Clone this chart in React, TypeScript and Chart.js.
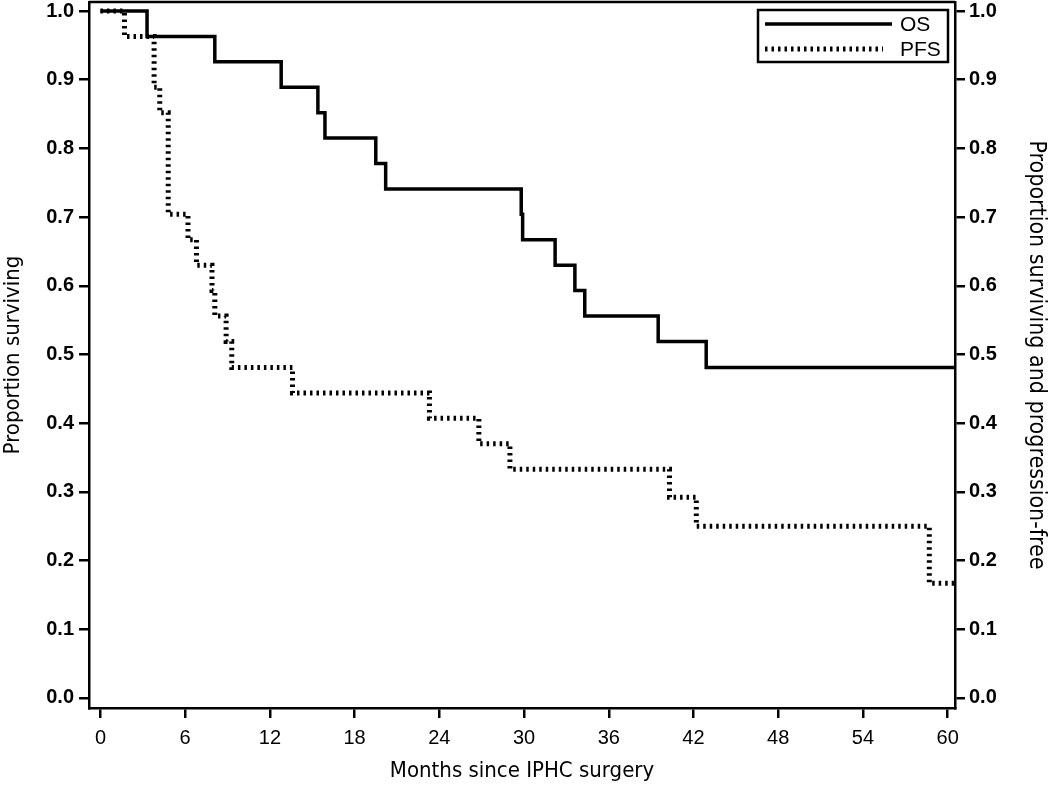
import React, { useEffect, useRef } from "react";
import { Chart, registerables } from "chart.js";

Chart.register(...registerables);

// ---- Data ----
const seriesNames = ["OS", "PFS"];
const osMonths = [0, 3.3, 8.1, 12.8, 15.4, 15.9, 19.5, 20.2, 29.8, 29.9, 32.2, 33.6, 34.3, 39.5, 42.9, 60.5];
const osSurvival = [1.0, 0.963, 0.926, 0.889, 0.852, 0.815, 0.778, 0.741, 0.704, 0.667, 0.63, 0.593, 0.556, 0.519, 0.481, 0.481];
const pfsMonths = [0, 1.7, 3.8, 4.2, 4.8, 6.2, 6.8, 7.9, 8.1, 8.9, 9.3, 13.6, 23.3, 26.8, 29.0, 40.3, 42.2, 58.7, 60.5];
const pfsSurvival = [1.0, 0.963, 0.889, 0.852, 0.704, 0.667, 0.63, 0.593, 0.556, 0.519, 0.481, 0.444, 0.407, 0.37, 0.333, 0.292, 0.25, 0.167, 0.167];
const xTicks = [0, 6, 12, 18, 24, 30, 36, 42, 48, 54, 60];
const yTicks = [0, 0.1, 0.2, 0.3, 0.4, 0.5, 0.6, 0.7, 0.8, 0.9, 1.0];
const xTitle = "Months since IPHC surgery";
const yTitleLeft = "Proportion surviving";
const yTitleRight = "Proportion surviving and progression-free";

const X_MIN = -0.81;
const X_MAX = 60.52;
const Y_MIN = -0.0146;
const Y_MAX = 1.0131;

const BLACK = "#000000";
const SANS = "'Liberation Sans', Arial, sans-serif";
const NARROW = "'Liberation Sans Narrow', 'Arial Narrow', 'DejaVu Sans Condensed', sans-serif";
const PFS_DASH = [2.5, 4];

const framePlugin = {
  id: "frameAndLegend",
  afterDraw(chart: any) {
    const { ctx, chartArea } = chart;
    ctx.save();
    // top border of the plot box
    ctx.strokeStyle = BLACK;
    ctx.lineWidth = 2.5;
    ctx.beginPath();
    ctx.moveTo(chartArea.left, chartArea.top);
    ctx.lineTo(chartArea.right, chartArea.top);
    ctx.stroke();

    // legend box
    const boxRight = chartArea.right - 7;
    const boxLeft = boxRight - 190;
    const boxTop = chartArea.top + 8;
    const boxH = 52;
    ctx.lineWidth = 2.5;
    ctx.strokeRect(boxLeft, boxTop, boxRight - boxLeft, boxH);

    const ds = chart.data.datasets;
    const rows = [
      { y: boxTop + 14, lineEnd: boxLeft + 134, d: ds[0] },
      { y: boxTop + 39, lineEnd: boxLeft + 125, d: ds[1] },
    ];
    ctx.font = `21px ${SANS}`;
    ctx.fillStyle = BLACK;
    ctx.textBaseline = "middle";
    ctx.textAlign = "left";
    rows.forEach((r) => {
      ctx.save();
      ctx.strokeStyle = r.d.borderColor;
      ctx.lineWidth = r.d.borderWidth;
      ctx.setLineDash(r.d.borderDash || []);
      ctx.beginPath();
      ctx.moveTo(boxLeft + 7, r.y);
      ctx.lineTo(r.lineEnd, r.y);
      ctx.stroke();
      ctx.restore();
      ctx.fillText(r.d.label, boxLeft + 142, r.y + 1);
    });
    ctx.restore();
  },
};

function yScale(position: "left" | "right", title: string, width: number, titleSize: number) {
  return {
    type: "linear",
    position,
    min: Y_MIN,
    max: Y_MAX,
    afterBuildTicks: (s: any) => {
      s.ticks = yTicks.map((v) => ({ value: v }));
    },
    afterFit: (s: any) => {
      s.width = width;
      s.paddingTop = 0;
      s.paddingBottom = 0;
    },
    ticks: {
      color: BLACK,
      font: { family: SANS, size: 20, weight: "bold" },
      padding: position === "left" ? 5 : 4,
      callback: (v: any) => Number(v).toFixed(1),
    },
    grid: {
      drawOnChartArea: false,
      drawTicks: true,
      tickLength: 10,
      color: BLACK,
      lineWidth: 2.5,
    },
    border: { display: true, color: BLACK, width: 2.5 },
    title: {
      display: true,
      text: title,
      color: BLACK,
      font: { family: NARROW, size: titleSize, lineHeight: 1.2 },
      padding: 0,
    },
  };
}

export default function App() {
  const ref = useRef<HTMLCanvasElement>(null);

  useEffect(() => {
    const canvas = ref.current;
    if (!canvas) return;
    const chart = new Chart(canvas, {
      type: "line",
      data: {
        datasets: [
          {
            label: seriesNames[0],
            data: osMonths.map((m, i) => ({ x: m, y: osSurvival[i] })),
            stepped: "before",
            borderColor: BLACK,
            borderWidth: 3.5,
            pointRadius: 0,
            fill: false,
            order: 1,
            yAxisID: "y",
          },
          {
            label: seriesNames[1],
            data: pfsMonths.map((m, i) => ({ x: m, y: pfsSurvival[i] })),
            stepped: "before",
            borderColor: BLACK,
            borderWidth: 5,
            borderDash: PFS_DASH,
            borderCapStyle: "butt",
            pointRadius: 0,
            fill: false,
            order: 0,
            yAxisID: "y",
          },
        ],
      },
      options: {
        animation: false,
        responsive: false,
        devicePixelRatio: 1,
        layout: { padding: { top: 2, left: 0, right: 0, bottom: 0 } },
        plugins: {
          legend: { display: false },
          tooltip: { enabled: false },
        },
        scales: {
          x: {
            type: "linear",
            position: "bottom",
            min: X_MIN,
            max: X_MAX,
            afterBuildTicks: (s: any) => {
              s.ticks = xTicks.map((v) => ({ value: v }));
            },
            afterFit: (s: any) => {
              s.height = 78;
              s.paddingLeft = 0;
              s.paddingRight = 0;
            },
            ticks: {
              color: BLACK,
              font: { family: SANS, size: 20 },
              padding: 8,
              autoSkip: false,
              maxRotation: 0,
              callback: (v: any) => String(v),
            },
            grid: {
              drawOnChartArea: false,
              drawTicks: true,
              tickLength: 10,
              color: BLACK,
              lineWidth: 2.5,
            },
            border: { display: true, color: BLACK, width: 2.5 },
            title: {
              display: true,
              text: xTitle,
              color: BLACK,
              font: { family: NARROW, size: 22, lineHeight: 1.2 },
              padding: { top: 0, bottom: 2 },
            },
          },
          y: yScale("left", yTitleLeft, 89, 22),
          y2: yScale("right", yTitleRight, 95, 23),
        },
      } as any,
      plugins: [framePlugin],
    } as any);
    return () => chart.destroy();
  }, []);

  return (
    <div style={{ position: "absolute", left: 0, top: 0, width: 1050, height: 786, background: "#fff" }}>
      <canvas ref={ref} width={1050} height={786} style={{ display: "block" }} />
    </div>
  );
}
